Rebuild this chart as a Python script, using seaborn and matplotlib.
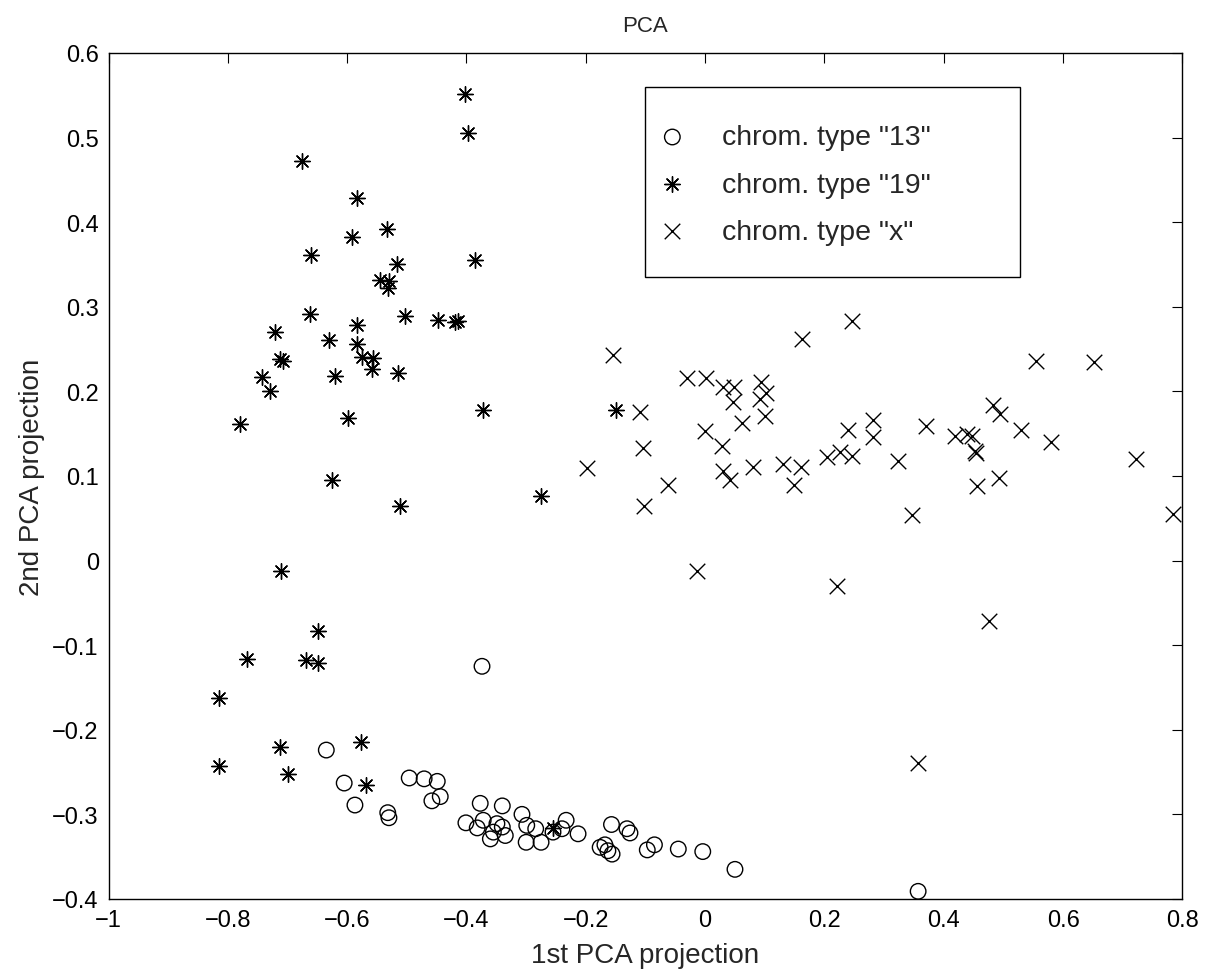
import matplotlib
matplotlib.use("Agg")
import matplotlib.pyplot as plt
import numpy as np
import pandas as pd
import seaborn as sns
from matplotlib.patches import Rectangle
from matplotlib.ticker import FuncFormatter, MultipleLocator

# chrom. type "13" (circles)
x13 = [-0.374, -0.635, -0.605, -0.587, -0.532, -0.530, -0.496, -0.471, -0.449,
       -0.458, -0.444, -0.377, -0.340, -0.401, -0.372, -0.382, -0.349, -0.340,
       -0.335, -0.355, -0.360, -0.307, -0.299, -0.284, -0.300, -0.275, -0.255,
       -0.240, -0.233, -0.213, -0.157, -0.176, -0.168, -0.163, -0.156, -0.131,
       -0.126, -0.097, -0.085, -0.045, -0.004, 0.050, 0.357]
y13 = [-0.125, -0.224, -0.263, -0.289, -0.298, -0.304, -0.257, -0.258, -0.261,
       -0.284, -0.279, -0.287, -0.290, -0.310, -0.307, -0.316, -0.311, -0.315,
       -0.325, -0.321, -0.329, -0.300, -0.313, -0.317, -0.333, -0.333, -0.321,
       -0.317, -0.307, -0.323, -0.312, -0.339, -0.336, -0.343, -0.347, -0.317,
       -0.322, -0.342, -0.336, -0.341, -0.344, -0.365, -0.391]

# chrom. type "19" (asterisks)
x19 = [-0.402, -0.397, -0.675, -0.583, -0.592, -0.533, -0.660, -0.385, -0.516,
       -0.545, -0.530, -0.532, -0.662, -0.503, -0.448, -0.420, -0.415, -0.721,
       -0.583, -0.630, -0.583, -0.713, -0.708, -0.575, -0.557, -0.558, -0.743,
       -0.729, -0.780, -0.620, -0.515, -0.598, -0.372, -0.149, -0.625, -0.511,
       -0.275, -0.711, -0.649, -0.768, -0.669, -0.649, -0.815, -0.713, -0.815,
       -0.699, -0.577, -0.568, -0.255]
y19 = [0.551, 0.505, 0.472, 0.429, 0.383, 0.392, 0.361, 0.355, 0.350,
       0.332, 0.330, 0.322, 0.291, 0.289, 0.284, 0.282, 0.283, 0.270,
       0.278, 0.261, 0.256, 0.238, 0.236, 0.241, 0.240, 0.226, 0.217,
       0.200, 0.162, 0.218, 0.222, 0.169, 0.178, 0.178, 0.095, 0.065,
       0.076, -0.012, -0.083, -0.116, -0.117, -0.121, -0.162, -0.220, -0.243,
       -0.252, -0.214, -0.265, -0.316]

# chrom. type "x" (crosses)
xx = [-0.154, -0.110, -0.105, -0.198, -0.062, -0.103, -0.013, -0.030, 0.002,
      0.030, 0.049, 0.047, 0.094, 0.092, 0.102, 0.101, 0.062, 0.000,
      0.028, 0.030, 0.042, 0.080, 0.131, 0.161, 0.149, 0.163, 0.246,
      0.205, 0.226, 0.246, 0.240, 0.282, 0.282, 0.221, 0.324, 0.346,
      0.357, 0.371, 0.419, 0.439, 0.447, 0.453, 0.454, 0.456, 0.476,
      0.483, 0.495, 0.493, 0.530, 0.555, 0.580, 0.651, 0.723, 0.785]
yx = [0.243, 0.176, 0.133, 0.109, 0.089, 0.065, -0.012, 0.216, 0.216,
      0.205, 0.205, 0.187, 0.211, 0.191, 0.198, 0.171, 0.163, 0.153,
      0.135, 0.106, 0.095, 0.111, 0.114, 0.111, 0.089, 0.262, 0.283,
      0.122, 0.128, 0.124, 0.154, 0.166, 0.146, -0.030, 0.118, 0.054,
      -0.239, 0.159, 0.147, 0.150, 0.147, 0.130, 0.127, 0.088, -0.071,
      0.184, 0.173, 0.098, 0.154, 0.236, 0.140, 0.235, 0.120, 0.055]

labels = ['chrom. type "13"', 'chrom. type "19"', 'chrom. type "x"']

sns.set_style("white")
plt.rcParams["font.family"] = ["Liberation Sans", "DejaVu Sans"]
plt.rcParams["axes.unicode_minus"] = True

fig = plt.figure(figsize=(12.14, 9.78), dpi=100)
ax = fig.add_axes([0.0894, 0.0798, 0.8846, 0.865])

ms = 125  # marker area (pt^2)
sns.scatterplot(x=x13, y=y13, ax=ax, marker="o", s=ms, color="black",
                facecolor="none", edgecolor="black", linewidth=1.0, label=labels[0])
sns.scatterplot(x=x19, y=y19, ax=ax, marker=(8, 2, 0), s=ms, color="black",
                linewidth=1.0, label=labels[1])
sns.scatterplot(x=xx, y=yx, ax=ax, marker="x", s=ms, color="black",
                linewidth=1.0, label=labels[2])

ax.set_xlim(-1, 0.8)
ax.set_ylim(-0.4, 0.6)
ax.xaxis.set_major_locator(MultipleLocator(0.2))
ax.yaxis.set_major_locator(MultipleLocator(0.1))


def fmt(v, pos):
    v = round(v, 8)
    if v == 0:
        return "0"
    return f"{v:g}".replace("-", "\u2212")


ax.xaxis.set_major_formatter(FuncFormatter(fmt))
ax.yaxis.set_major_formatter(FuncFormatter(fmt))

ax.tick_params(direction="in", length=7, width=0.8, top=True, right=True,
               labelsize=17, colors="black")
ax.tick_params(axis="x", pad=7)
ax.tick_params(axis="y", pad=7)
for sp in ax.spines.values():
    sp.set_visible(True)
    sp.set_color("black")
    sp.set_linewidth(1.0)

ax.set_xlabel("1st PCA projection", fontsize=20, labelpad=8)
ax.set_ylabel("2nd PCA projection", fontsize=20, labelpad=5)
ax.set_title("PCA", fontsize=16, pad=16)

# legend box (MATLAB style)
ax.add_patch(Rectangle((0.4995, 0.735), 0.3495, 0.225, transform=ax.transAxes,
                       fill=True, facecolor="white", edgecolor="black",
                       linewidth=1.0, zorder=4))
leg = ax.legend(loc="upper left", bbox_to_anchor=(0.5144, 0.9155),
                fontsize=20.5, frameon=False, borderpad=0,
                labelspacing=0.745, handlelength=0.8, handletextpad=1.34,
                borderaxespad=0)
leg.set_zorder(5)

fig.savefig("out.png", dpi=100)
